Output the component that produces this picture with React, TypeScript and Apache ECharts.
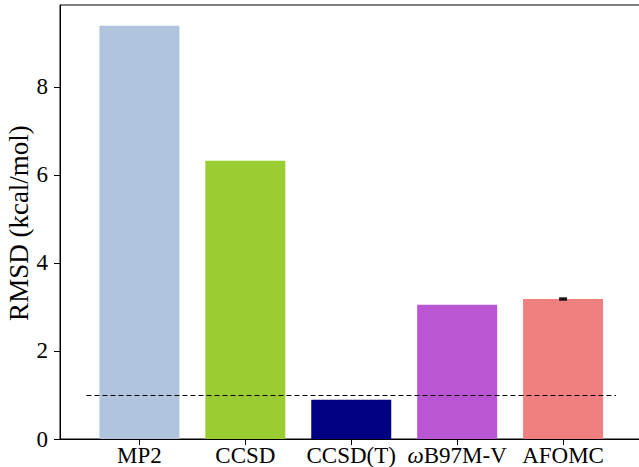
import React, { useEffect, useRef } from "react";
import * as echarts from "echarts";

const categories = ["MP2", "CCSD", "CCSD(T)", "ωB97M-V", "AFOMC"];
const rmsdValues = [9.39, 6.32, 0.89, 3.05, 3.18];
const barColors = ["#B0C4DE", "#9ACD32", "#000080", "#BA55D3", "#F08080"];
const errorValues = [0, 0, 0, 0, 0.02];
const yTicks = [0, 2, 4, 6, 8];
const yAxisTitle = "RMSD (kcal/mol)";
const refLine = { y: 1, from: -0.5, to: 4.5 };

const FONT = "Liberation Serif";

export default function App() {
  const ref = useRef<HTMLDivElement>(null);
  useEffect(() => {
    document.body.style.margin = "0";
    const chart = echarts.init(ref.current!, null, { renderer: "svg" });
    const xIdx = categories.map((_, i) => i);
    chart.setOption({
      animation: false,
      backgroundColor: "#ffffff",
      grid: {
        left: 60,
        top: 5,
        width: 582.5,
        height: 434,
        show: true,
        borderColor: "#000",
        borderWidth: 1,
        containLabel: false,
        outerBoundsMode: "none",
      },
      graphic: [
        {
          type: "text",
          x: 19,
          y: 223,
          rotation: Math.PI / 2,
          style: {
            text: yAxisTitle,
            font: "27px 'Liberation Serif', 'Times New Roman', serif",
            fill: "#000",
            align: "center",
            verticalAlign: "middle",
          },
        },
      ],
      xAxis: {
        type: "value",
        min: -0.75,
        max: 4.75,
        splitLine: { show: false },
        axisLine: { show: true, onZero: false, lineStyle: { color: "#000", width: 1 } },
        axisTick: {
          show: true,
          customValues: xIdx,
          length: 6,
          lineStyle: { color: "#000", width: 1 },
        },
        axisLabel: {
          customValues: xIdx,
          margin: 5,
          color: "#000",
          fontFamily: FONT,
          fontSize: 23,
          formatter: (v: number) => {
            const name = categories[Math.round(v)] ?? "";
            return name.startsWith("ω") ? "{w|ω}" + name.slice(1) : name;
          },
          rich: {
            w: { fontFamily: FONT, fontSize: 23, fontStyle: "italic", color: "#000" },
          },
        },
      },
      yAxis: {
        type: "value",
        min: 0,
        max: 9.86,
        splitLine: { show: false },
        axisLine: { show: true, onZero: false, lineStyle: { color: "#000", width: 1 } },
        axisTick: {
          show: true,
          customValues: yTicks,
          length: 6,
          lineStyle: { color: "#000", width: 1 },
        },
        axisLabel: {
          customValues: yTicks,
          margin: 12,
          color: "#000",
          fontFamily: FONT,
          fontSize: 23,
        },
      },
      series: [
        {
          type: "bar",
          barWidth: 80,
          data: rmsdValues.map((v, i) => ({
            value: [i, v],
            itemStyle: { color: barColors[i] },
          })),
          markLine: {
            silent: true,
            symbol: "none",
            label: { show: false },
            lineStyle: { color: "#000", type: [5, 3], width: 1 },
            data: [
              [
                { coord: [refLine.from, refLine.y] },
                { coord: [refLine.to, refLine.y] },
              ],
            ],
          },
        },
        {
          type: "custom",
          data: rmsdValues.map((v, i) => [i, v, errorValues[i]]),
          renderItem: (params: any, api: any) => {
            const x = api.value(0);
            const v = api.value(1);
            const e = api.value(2);
            if (!e) return null;
            const top = api.coord([x, v + e]);
            const bot = api.coord([x, v - e]);
            const cw = 8;
            return {
              type: "group",
              children: [
                {
                  type: "line",
                  shape: { x1: top[0], y1: top[1], x2: bot[0], y2: bot[1] },
                  style: { stroke: "#000", lineWidth: 1.5 },
                },
                {
                  type: "line",
                  shape: { x1: top[0] - cw / 2, y1: top[1], x2: top[0] + cw / 2, y2: top[1] },
                  style: { stroke: "#000", lineWidth: 1.5 },
                },
                {
                  type: "line",
                  shape: { x1: bot[0] - cw / 2, y1: bot[1], x2: bot[0] + cw / 2, y2: bot[1] },
                  style: { stroke: "#000", lineWidth: 1.5 },
                },
              ],
            };
          },
          z: 10,
        },
      ],
    });
    return () => chart.dispose();
  }, []);
  return <div ref={ref} style={{ width: 639, height: 467 }} />;
}
